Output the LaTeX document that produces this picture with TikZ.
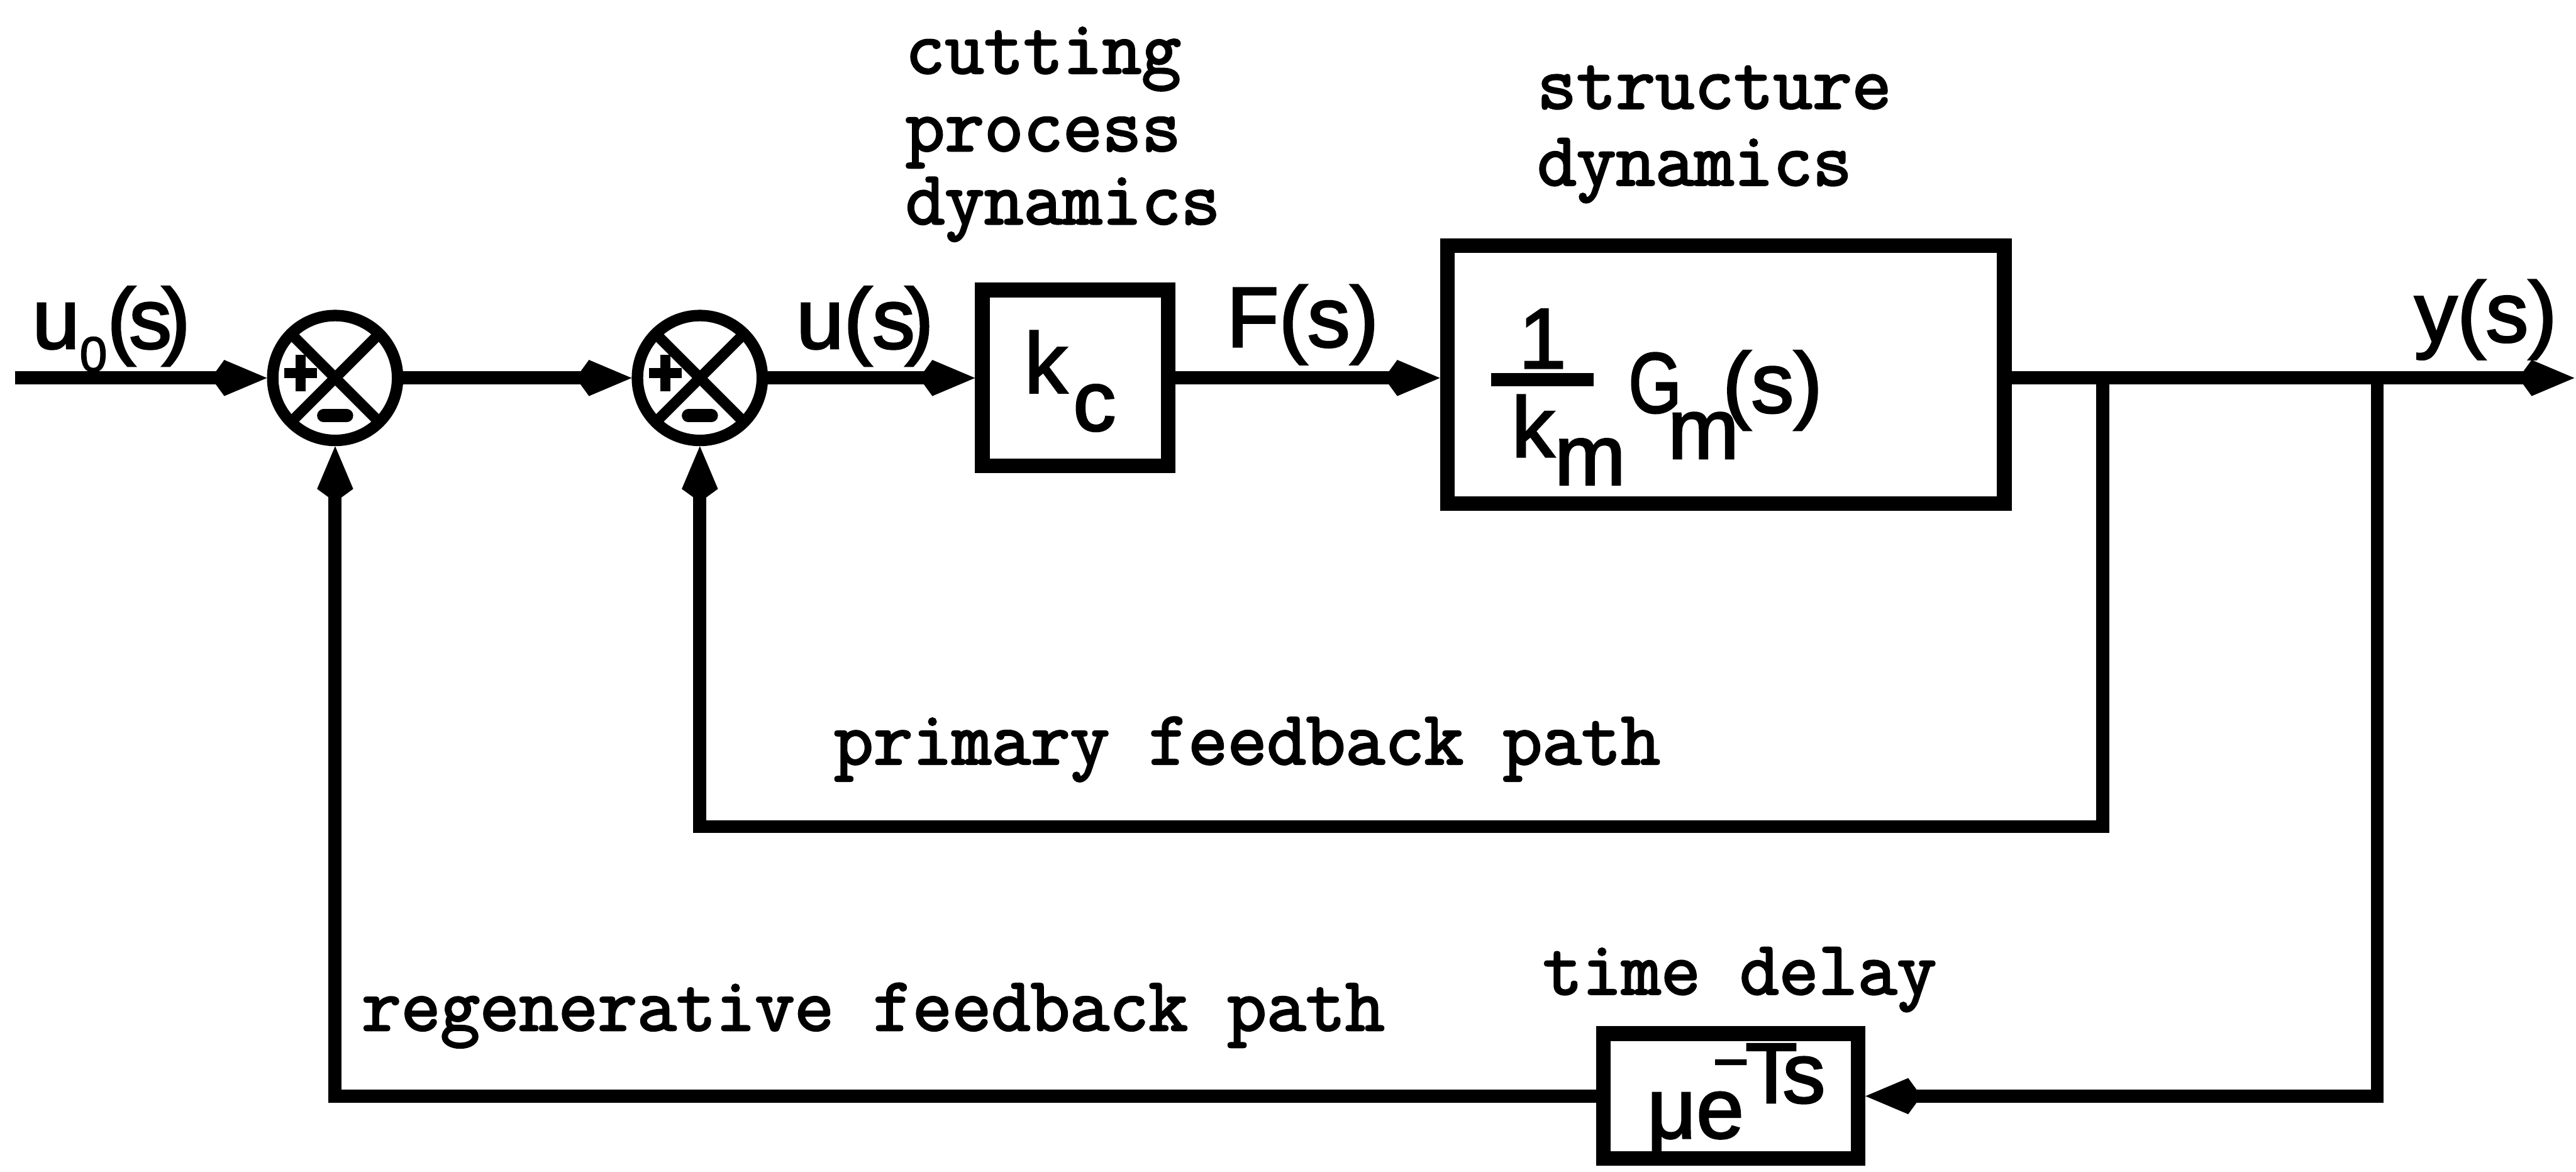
\documentclass[tikz,border=0pt]{standalone}
\usepackage{fontspec}
\usetikzlibrary{arrows.meta}
\newfontfamily\letterfont[FakeBold=2.2]{Liberation Sans}
\newfontfamily\typefont[FakeBold=2.5]{Latin Modern Mono}

% X and sign marks of a summing junction
\newcommand\sumsigns[1]{%
  \draw[crossbar] (#1.north east) -- (#1.south west);
  \draw[crossbar] (#1.north west) -- (#1.south east);
  \draw[plusmark] ([shift={(-31,-3)}]#1.center) -- ([shift={(-11,-3)}]#1.center)
                  ([shift={(-21,-14)}]#1.center) -- ([shift={(-21,8)}]#1.center);
  \draw[minusmark] ([shift={(-7,23)}]#1.center) -- ([shift={(7,23)}]#1.center);
}

\begin{document}
\begin{tikzpicture}[x=1pt,y=-1pt,
  wire/.style={line width=8pt},
  flow/.style={wire,-{Kite[length=34pt,width=22pt,inset=8pt,line width=0pt]}},
  blockbox/.style={draw,rectangle,line width=9pt,inner sep=0pt},
  sumjunction/.style={draw,circle,line width=7pt,minimum size=76pt,inner sep=0pt},
  crossbar/.style={line width=6.5pt,shorten <=3pt,shorten >=3pt},
  plusmark/.style={line width=6pt},
  minusmark/.style={line width=8pt,line cap=round},
  lettering/.style={font=\letterfont\fontsize{52}{58}\selectfont,inner sep=0pt,anchor=base west},
  typed/.style={font=\typefont\fontsize{46.5}{52}\selectfont,inner sep=0pt,anchor=base west},
]
\useasboundingbox (0,0) rectangle (1568,713);

% blocks and summing junctions
\node[sumjunction] (j1) at (204,230) {};
\node[sumjunction] (j2) at (426,230) {};
\sumsigns{j1}
\sumsigns{j2}
\node[blockbox,minimum width=113pt,minimum height=107pt] (kc) at (654.5,230) {};
\node[blockbox,minimum width=339pt,minimum height=157pt] (gm) at (1050.5,228) {};
\node[blockbox,minimum width=155pt,minimum height=76pt] (delay) at (1053.5,667) {};

% block contents
\node[lettering] (kclbl) at (623.4,239) {k\kern3.6pt\raisebox{-23pt}{c}};

\node[lettering] (gmone) at (924.3,224) {1};
\coordinate (barL) at (907.6,231);
\coordinate (barR) at (970,231);
\draw[line width=8pt] (barL) -- (barR);
\node[lettering] (gmden) at (920,278) {k\raisebox{-17pt}{m}};
\node[lettering] (gmlbl) at (991,251)
  {\scalebox{0.8}[1]{G}\kern-8.4pt\raisebox{-28pt}{m}\kern-9.9pt(s)};

\node[lettering] (delaylbl) at (1002.4,692.5)
  {μe\kern0.8pt\raisebox{21.5pt}{\llap{\raisebox{12pt}{\fontsize{38}{38}\selectfont −\kern-2.4pt}}T\kern-9pt s}};

% signal labels
\node[lettering] (u0lbl) at (19.4,212)
  {u\raisebox{-14pt}{\fontsize{30}{30}\selectfont 0}(\kern-4pt s\kern-6pt)};
\node[lettering] (ulbl) at (484.5,212) {u(s\kern-6pt)};
\node[lettering] (Flbl) at (746.5,211) {F(s)};
\node[lettering] (ylbl) at (1469.5,208) {y(s)};

% descriptive captions
\node[typed] (cut1) at (551,44.6) {cutting};
\node[typed] (cut2) at (551,91.8) {process};
\node[typed] (cut3) at (551,136.3) {dynamics};
\node[typed] (str1) at (935.5,66) {structure};
\node[typed] (str2) at (935.5,112.7) {dynamics};
\node[typed] (prim) at (507.5,465) {primary feedback path};
\node[typed] (regen) at (220,627) {regenerative feedback path};
\node[typed] (tdel) at (939,605) {time delay};

% forward path
\coordinate (in) at (9,230);
\coordinate (out) at (1567,230);
\coordinate (tap1) at (1280,230);
\coordinate (tap2) at (1447,230);
\coordinate (pturn) at (1280,503);
\draw[flow] (in) -- (j1.west);
\draw[flow] (j1.east) -- (j2.west);
\draw[flow] (j2.east) -- (kc.west);
\draw[flow] (kc.east) -- (kc.east -| gm.west);
\draw[flow] (gm.east |- out) -- (out);

% feedback paths
\draw[flow] (tap1) -- (pturn) -| (j2.south);
\draw[flow] (tap2) |- (delay.east);
\draw[flow] (delay.west) -| (j1.south);
\end{tikzpicture}
\end{document}
